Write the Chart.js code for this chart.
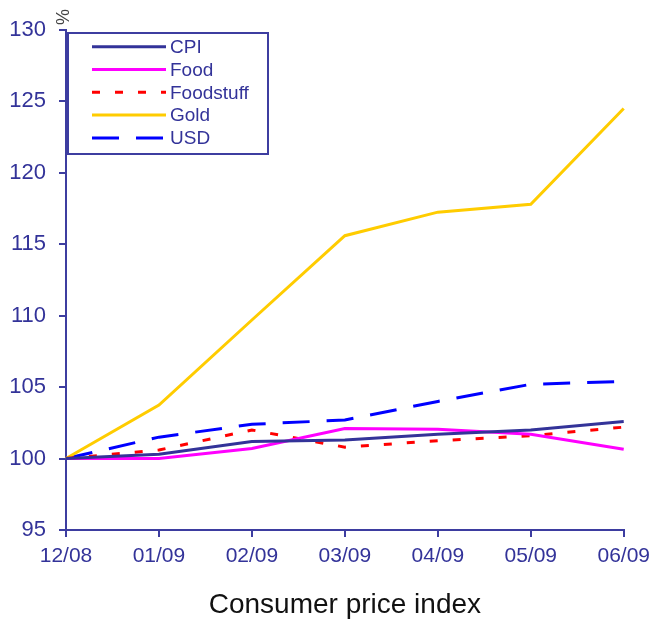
<!DOCTYPE html>
<html>
<head>
<meta charset="utf-8">
<script src="https://cdn.jsdelivr.net/npm/chart.js@4/dist/chart.umd.min.js"></script>
<style>
  html, body { margin: 0; padding: 0; background: #fff; }
  #wrap { width: 657px; height: 619px; position: relative; }
</style>
</head>
<body>
<div id="wrap"><canvas id="c"></canvas></div>
<script>
// Months on the horizontal axis
const months = ['12/08', '01/09', '02/09', '03/09', '04/09', '05/09', '06/09'];

// Index values, December 2008 = 100
const cpi       = [100, 100.3, 101.2, 101.3, 101.7, 102.0, 102.6];
const food      = [100, 100.0, 100.7, 102.1, 102.05, 101.7, 100.65];
const foodstuff = [100, 100.6, 102.0, 100.8, 101.25, 101.6, 102.2];
const gold      = [100, 103.75, 109.7, 115.6, 117.25, 117.8, 124.5];
const usd       = [100, 101.5, 102.4, 102.7, 104.0, 105.2, 105.4];

// Vertical axis range
const yMin = 95, yMax = 130, yStep = 5;

const axisColor = '#3d3da0';
const labelColor = '#333399';
const font = "'Liberation Sans', Arial, sans-serif";

// Boxed legend in the upper-left corner of the plot, plus the rotated % unit
const boxLegend = {
  id: 'boxLegend',
  afterDraw(chart) {
    const ctx = chart.ctx;
    ctx.save();
    // unit label above the value axis
    ctx.translate(64, 17);
    ctx.rotate(-Math.PI / 2);
    ctx.fillStyle = '#444';
    ctx.font = '18px ' + font;
    ctx.textAlign = 'center';
    ctx.textBaseline = 'middle';
    ctx.fillText('%', 0, 0);
    ctx.restore();

    const x0 = 68, y0 = 33, w = 200, h = 121;
    ctx.save();
    ctx.fillStyle = '#fff';
    ctx.fillRect(x0, y0, w, h);
    ctx.strokeStyle = axisColor;
    ctx.lineWidth = 2;
    ctx.strokeRect(x0, y0, w, h);
    const rowH = 22.8;
    chart.data.datasets.forEach((ds, i) => {
      const y = y0 + 13.7 + i * rowH;
      ctx.beginPath();
      ctx.setLineDash(ds.borderDash || []);
      ctx.strokeStyle = ds.borderColor;
      ctx.lineWidth = 3;
      ctx.moveTo(92, y);
      ctx.lineTo(166, y);
      ctx.stroke();
      ctx.setLineDash([]);
      ctx.fillStyle = labelColor;
      ctx.font = '19px ' + font;
      ctx.textAlign = 'left';
      ctx.textBaseline = 'middle';
      ctx.fillText(ds.label, 170, y + 1);
    });
    ctx.restore();
  }
};

function series(label, data, color, dash) {
  return {
    label, data,
    borderColor: color,
    backgroundColor: color,
    borderWidth: 3,
    borderDash: dash,
    pointRadius: 0,
    tension: 0,
    fill: false
  };
}

new Chart(document.getElementById('c'), {
  type: 'line',
  data: {
    labels: months,
    datasets: [
      series('CPI', cpi, '#333399', []),
      series('Food', food, '#ff00ff', []),
      series('Foodstuff', foodstuff, '#ff0000', [8, 15]),
      series('Gold', gold, '#ffcc00', []),
      series('USD', usd, '#0000ff', [27, 17])
    ]
  },
  options: {
    responsive: true,
    maintainAspectRatio: false,
    animation: false,
    layout: { padding: { top: 30, right: 31, bottom: 0, left: 0 } },
    plugins: {
      legend: { display: false },
      tooltip: { enabled: false }
    },
    scales: {
      x: {
        type: 'category',
        offset: false,
        afterFit(scale) { scale.height = 89; },
        border: { display: true, color: axisColor, width: 2 },
        grid: { drawOnChartArea: false, drawTicks: true, tickLength: 7, color: axisColor, lineWidth: 2 },
        ticks: { color: labelColor, font: { family: font, size: 21 }, padding: 7, maxRotation: 0, autoSkip: false },
        title: {
          display: true,
          text: 'Consumer price index',
          color: '#111',
          font: { family: font, size: 28, lineHeight: 1 },
          padding: { top: 0, bottom: 0 }
        }
      },
      y: {
        min: yMin,
        max: yMax,
        afterFit(scale) { scale.width = 66; },
        border: { display: true, color: axisColor, width: 2 },
        grid: { drawOnChartArea: false, drawTicks: true, tickLength: 7, color: axisColor, lineWidth: 2 },
        ticks: { stepSize: yStep, color: labelColor, font: { family: font, size: 22 }, padding: 13 }
      }
    }
  },
  plugins: [boxLegend]
});
</script>
</body>
</html>
